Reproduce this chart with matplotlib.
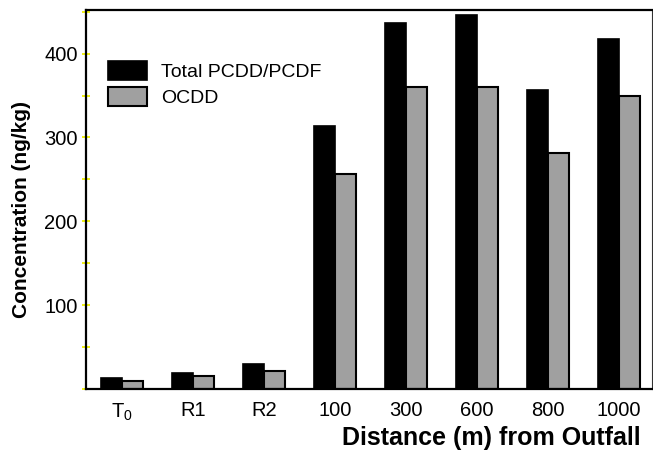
import matplotlib
matplotlib.use("Agg")
import matplotlib.pyplot as plt
import numpy as np
from matplotlib.ticker import MultipleLocator

plt.rcParams["font.family"] = ["Liberation Sans", "DejaVu Sans"]
plt.rcParams["mathtext.fontset"] = "custom"
plt.rcParams["mathtext.rm"] = "Liberation Sans"

# ── Data ─────────────────────────────────────────────────────────────
sites = [r"$\mathregular{T_0}$", "R1", "R2", "100", "300", "600", "800", "1000"]
total_pcdd_pcdf = [13, 19, 30, 314, 436, 446, 357, 417]
ocdd = [10, 15, 22, 257, 360, 360, 282, 350]

# ── Plot ─────────────────────────────────────────────────────────────
fig = plt.figure(figsize=(6.53, 4.58), dpi=100)
# axes box: x 86..652 px, y 10..389 px
ax = fig.add_axes([86 / 653, (458 - 389) / 458, 566 / 653, 379 / 458])

x = np.arange(len(sites))
w = 0.3
ax.bar(x - w / 2, total_pcdd_pcdf, w, color="black", edgecolor="black",
       linewidth=1.2, label="Total PCDD/PCDF")
ax.bar(x + w / 2, ocdd, w, color="#a0a0a0", edgecolor="black",
       linewidth=1.5, label="OCDD")

ax.set_xlim(-0.507, 7.465)
ax.set_ylim(0, 452)
ax.set_xticks(x)
ax.set_xticklabels(sites, fontsize=14.5)
ax.tick_params(axis="x", length=0, pad=9)
ax.yaxis.set_minor_locator(MultipleLocator(50))
ax.set_yticks([100, 200, 300, 400])
ax.tick_params(axis="y", which="both", direction="inout", length=6,
               color="#f0f000", width=1.3, labelsize=14.5, pad=3)

for side in ["left", "bottom", "top"]:
    ax.spines[side].set_linewidth(1.6)
ax.spines["right"].set_linewidth(0.8)
ax.spines["right"].set_color("#333333")

fig.text(22 / 653, (458 - 210) / 458, "Concentration (ng/kg)", fontsize=15,
         fontweight="bold", rotation=90, ha="center", va="center")
fig.text(641 / 653, (458 - 438) / 458, "Distance (m) from Outfall",
         fontsize=18, fontweight="bold", ha="right", va="center")

ax.legend(loc="upper left", bbox_to_anchor=(22 / 566, (389 - 61) / 379),
          frameon=False, fontsize=14, handlelength=2.0, handleheight=1.13,
          handletextpad=0.75, labelspacing=0.3, borderpad=0,
          borderaxespad=0)

fig.savefig("out.png", dpi=100, facecolor="white")
